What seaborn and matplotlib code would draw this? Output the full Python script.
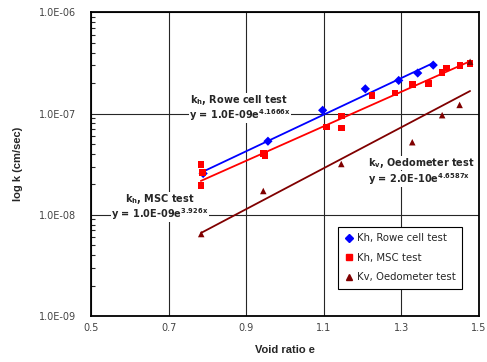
import numpy as np
import pandas as pd
import matplotlib
matplotlib.use("Agg")
import matplotlib.pyplot as plt
from matplotlib.ticker import FuncFormatter, FixedLocator, LogLocator, NullFormatter
import seaborn as sns

# ---- data ----
rowe_e = [0.789, 0.956, 1.097, 1.207, 1.293, 1.342, 1.382]
rowe_k = [2.56e-8, 5.34e-8, 1.08e-7, 1.76e-7, 2.13e-7, 2.52e-7, 3.02e-7]

msc_e = [0.784, 0.787, 0.783, 0.944, 0.948, 1.107, 1.145, 1.146, 1.224,
         1.283, 1.328, 1.370, 1.405, 1.416, 1.451, 1.477]
msc_k = [3.14e-8, 2.62e-8, 1.95e-8, 4.04e-8, 3.88e-8, 7.40e-8, 9.44e-8, 7.18e-8,
         1.51e-7, 1.60e-7, 1.95e-7, 1.99e-7, 2.56e-7, 2.84e-7, 3.00e-7, 3.14e-7]

oedo_e = [0.784, 0.944, 1.145, 1.328, 1.405, 1.450, 1.477]
oedo_k = [6.46e-9, 1.72e-8, 3.18e-8, 5.22e-8, 9.66e-8, 1.22e-7, 3.26e-7]

# exponential trend lines  k = a * exp(b * e)
rowe_fit = (1.0e-9, 4.1666)
msc_fit = (1.0e-9, 3.926)
oedo_fit = (1.72e-10, 4.6587)

series_names = ["Kh, Rowe cell test", "Kh, MSC test", "Kv, Oedometer test"]
colors = ["#0000FF", "#FF0000", "#800000"]
markers = ["D", "s", "^"]
x_ticks = [0.5, 0.7, 0.9, 1.1, 1.3, 1.5]
y_ticks = [1e-9, 1e-8, 1e-7, 1e-6]

df = pd.concat([
    pd.DataFrame({"e": rowe_e, "k": rowe_k, "test": series_names[0]}),
    pd.DataFrame({"e": msc_e, "k": msc_k, "test": series_names[1]}),
    pd.DataFrame({"e": oedo_e, "k": oedo_k, "test": series_names[2]}),
])

sns.set_style("white")
plt.rcParams["font.family"] = ["DejaVu Sans"]
plt.rcParams["mathtext.fontset"] = "dejavusans"

fig = plt.figure(figsize=(4.87, 3.62), dpi=100)
ax = fig.add_axes([0.1869, 0.1271, 0.7967, 0.8384])

# trend lines
for (a, b), xs, c in zip([rowe_fit, msc_fit, oedo_fit], [rowe_e, msc_e, oedo_e], colors):
    xl = np.linspace(min(xs), max(xs), 50)
    sns.lineplot(x=xl, y=a * np.exp(b * xl), color=c, lw=1.3, ax=ax, zorder=3)

sns.scatterplot(data=df, x="e", y="k", hue="test", style="test",
                palette=dict(zip(series_names, colors)),
                markers=dict(zip(series_names, markers)),
                s=22, edgecolor="none", ax=ax, zorder=4, legend=False)

ax.set_yscale("log")
ax.set_xlim(0.5, 1.5)
ax.set_ylim(1e-9, 1e-6)

ax.xaxis.set_major_locator(FixedLocator(x_ticks))
ax.xaxis.set_major_formatter(FuncFormatter(lambda v, p: f"{v:.1f}"))
ax.yaxis.set_major_locator(FixedLocator(y_ticks))
ax.yaxis.set_major_formatter(FuncFormatter(lambda v, p: f"{v:.1E}"))
ax.yaxis.set_minor_locator(LogLocator(base=10, subs=np.arange(2, 10)))
ax.yaxis.set_minor_formatter(NullFormatter())

ax.grid(True, which="major", color="0.15", lw=0.8)
ax.set_axisbelow(True)
ax.tick_params(axis="x", length=0, pad=5, labelsize=7, labelcolor="#444444")
ax.tick_params(axis="y", which="major", direction="inout", length=6, width=1,
               pad=8, labelsize=7, labelcolor="#444444")
ax.tick_params(axis="y", which="minor", direction="in", length=3, width=0.8, left=True)
for sp in ax.spines.values():
    sp.set_color("black")
    sp.set_linewidth(1.3)

ax.set_xlabel("Void ratio e", fontsize=8, fontweight="bold",
              family="Liberation Sans", labelpad=9)
ax.set_ylabel("log k (cm/sec)", fontsize=8, fontweight="bold",
              family="Liberation Sans", labelpad=11)

# annotations with white background covering the grid
box = dict(facecolor="white", edgecolor="none", pad=0.1)
tkw = dict(transform=ax.transAxes, fontsize=7, fontweight="bold", va="center",
           bbox=box, zorder=5)
ax.text(0.255, 0.712, r"$\mathbf{k_h}$, Rowe cell test", ha="left", **tkw)
ax.text(0.253, 0.662, r"y = 1.0E-09e$^{\mathbf{4.1666x}}$", ha="left", **tkw)
ax.text(0.178, 0.386, r"$\mathbf{k_h}$, MSC test", ha="center", **tkw)
ax.text(0.178, 0.336, r"y = 1.0E-09e$^{\mathbf{3.926x}}$", ha="center", **tkw)
ax.text(0.714, 0.504, r"$\mathbf{k_v}$, Oedometer test", ha="left", **tkw)
ax.text(0.714, 0.452, r"y = 2.0E-10e$^{\mathbf{4.6587x}}$", ha="left", **tkw)

handles = [plt.Line2D([], [], ls="none", marker=m, color=c, markersize=4)
           for m, c in zip(markers, colors)]
leg = ax.legend(handles, series_names, loc="lower left", bbox_to_anchor=(0.624, 0.072),
                fontsize=7.3, frameon=True, fancybox=False, framealpha=1,
                edgecolor="black", handlelength=0.8, handletextpad=0.4,
                labelspacing=0.95, borderpad=0.65)
leg.get_frame().set_linewidth(0.8)
leg.set_zorder(6)

fig.savefig("out.png", dpi=100)
